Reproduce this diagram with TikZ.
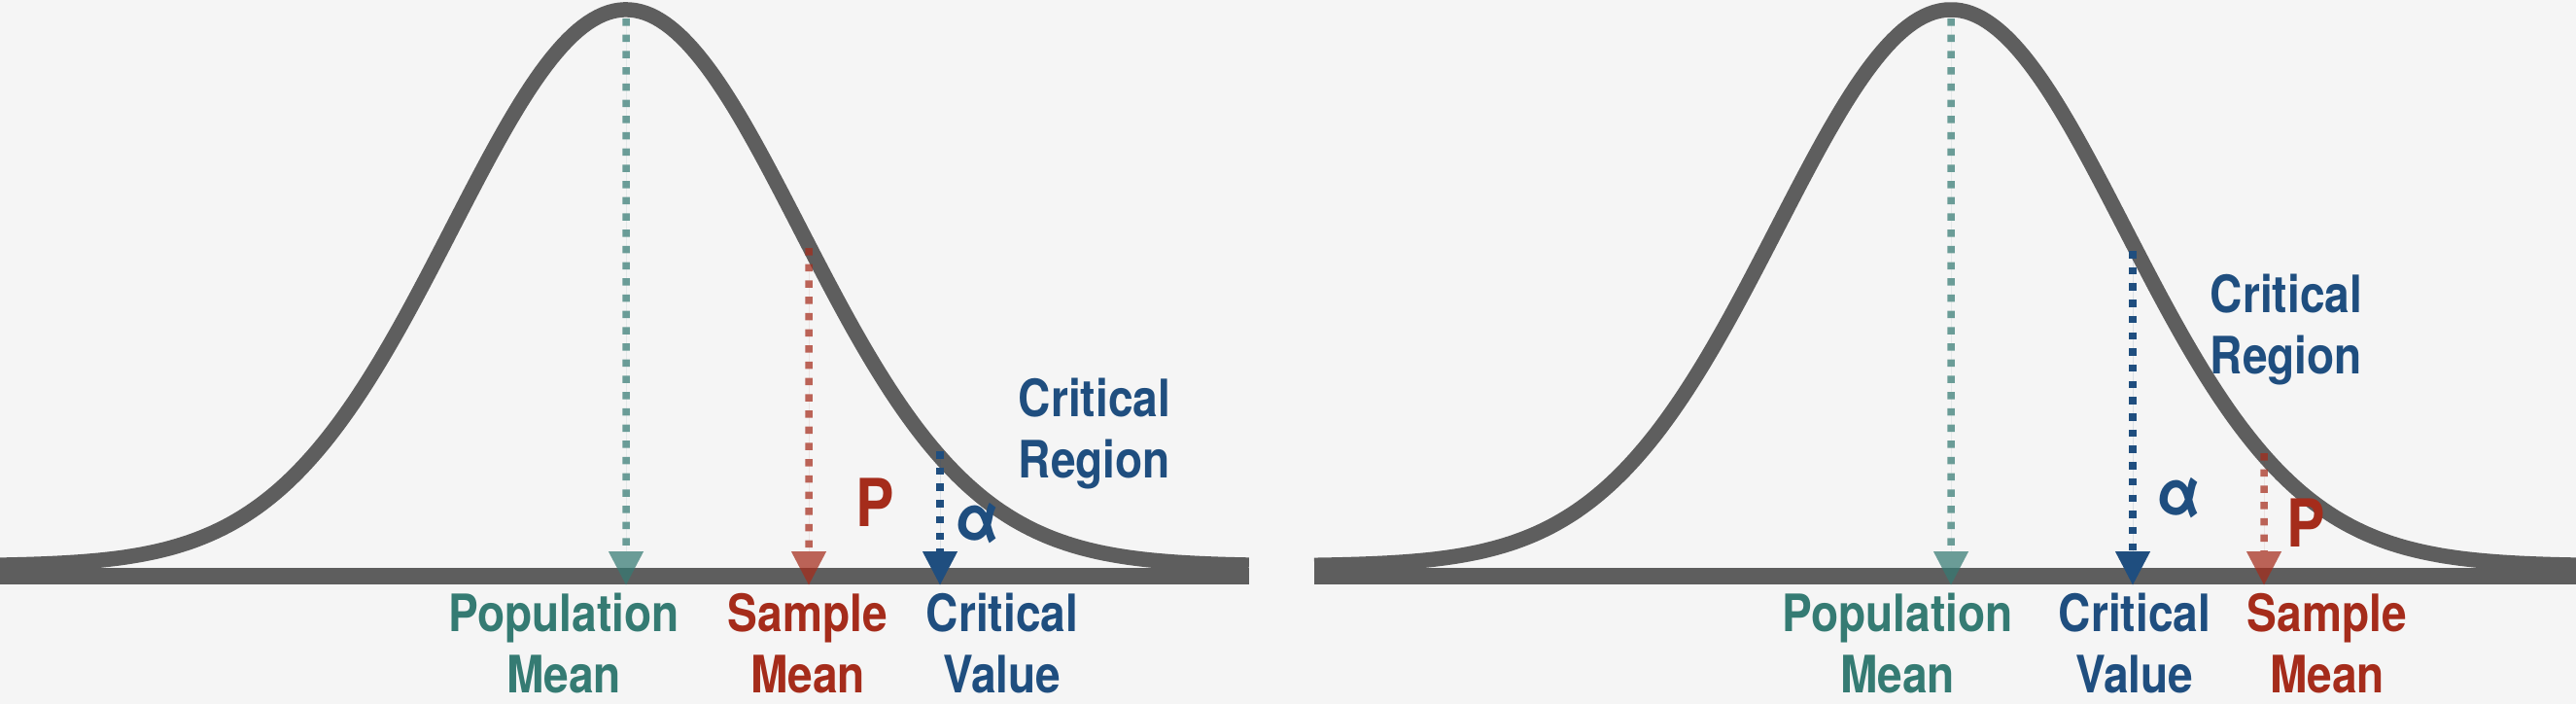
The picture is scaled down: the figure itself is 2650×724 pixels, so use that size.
\documentclass[tikz,border=0pt]{standalone}
\usepackage{fontspec}
\setmainfont{TeX Gyre Heros}[FakeStretch=0.87]
\usetikzlibrary{arrows.meta}
\definecolor{bg}{HTML}{F5F5F5}
\definecolor{curvegray}{HTML}{5E5E5E}
\definecolor{popc}{HTML}{357B73}
\definecolor{samc}{HTML}{A52C1B}
\definecolor{crc}{HTML}{1F4E7F}
\tikzset{
  bell/.style={draw=curvegray, line width=15.5pt, line join=round},
  axisline/.style={draw=curvegray, line width=17pt},
  drop/.style={line width=7.5pt, dash pattern=on 7.5pt off 9.2pt,
    -{Triangle[width=34pt,length=35pt]}},
  popdrop/.style={drop, draw=popc, fill=popc},
  samdrop/.style={drop, draw=samc, fill=samc},
  crdrop/.style={drop, draw=crc, fill=crc},
  faded/.style={transparency group, opacity=0.72},
  lbl/.style={font={\bfseries\fontsize{53}{63}\selectfont}, align=center, anchor=base, inner sep=0pt},
  big/.style={font={\bfseries\fontsize{68}{68}\selectfont}, inner sep=0pt, anchor=center},
}
\begin{document}
\begin{tikzpicture}[x=1pt,y=-1pt]
\fill[bg] (0,0) rectangle (2650,724);
\useasboundingbox (0,0) rectangle (2650,724);
% ---------- left panel ----------
\draw[axisline] (0,592) -- (1285,592);
\draw[bell] plot[domain=-3.598:3.581, samples=241] ({644+179*\x},{582-572*exp(-0.5*\x*\x)});
\coordinate (lpopS) at (644,19);  \coordinate (lpopE) at (644,602);
\coordinate (lsamS) at (832,255); \coordinate (lsamE) at (832,602);
\coordinate (lcrS) at (967,464);  \coordinate (lcrE) at (967,602);
\begin{scope}[faded]\draw[popdrop] (lpopS) -- (lpopE);\end{scope}
\begin{scope}[faded]\draw[samdrop] (lsamS) -- (lsamE);\end{scope}
\draw[crdrop] (lcrS) -- (lcrE);
\node[lbl, text=popc] (lpop) at (580,712) {Population\\Mean};
\node[lbl, text=samc] (lsam) at (831,712) {Sample\\Mean};
\node[lbl, text=crc] (lcrv) at (1031,712) {Critical\\Value};
\node[lbl, text=crc] (lcrr) at (1126,491) {Critical\\Region};
\node[big, text=samc] (lp) at (900,517) {P};
\node[big, text=crc] (la) at (1005,538) {α};
% ---------- right panel ----------
\draw[axisline] (1352,592) -- (2650,592);
\draw[bell] plot[domain=-3.659:3.592, samples=241] ({2007+179*\x},{582-572*exp(-0.5*\x*\x)});
\coordinate (rpopS) at (2007,19);  \coordinate (rpopE) at (2007,602);
\coordinate (rcrS) at (2194,258);  \coordinate (rcrE) at (2194,602);
\coordinate (rsamS) at (2329,466); \coordinate (rsamE) at (2329,602);
\begin{scope}[faded]\draw[popdrop] (rpopS) -- (rpopE);\end{scope}
\draw[crdrop] (rcrS) -- (rcrE);
\begin{scope}[faded]\draw[samdrop] (rsamS) -- (rsamE);\end{scope}
\node[lbl, text=popc] (rpop) at (1952,712) {Population\\Mean};
\node[lbl, text=crc] (rcrv) at (2196,712) {Critical\\Value};
\node[lbl, text=samc] (rsam) at (2394,712) {Sample\\Mean};
\node[lbl, text=crc] (rcrr) at (2352,384) {Critical\\Region};
\node[big, text=crc] (ra) at (2241,512) {α};
\node[big, text=samc] (rp) at (2372,538) {P};
\end{tikzpicture}
\end{document}
